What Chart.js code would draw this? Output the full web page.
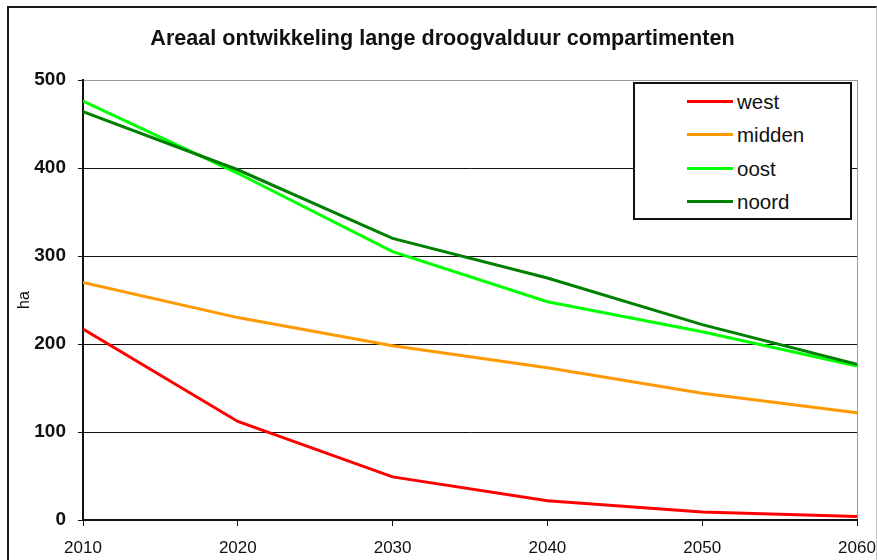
<!DOCTYPE html>
<html>
<head>
<meta charset="utf-8">
<script src="https://cdn.jsdelivr.net/npm/chart.js@4"></script>
<style>
  body { margin: 0; background: #fff; }
  #wrap { position: relative; width: 877px; height: 560px; overflow: hidden; font-family: "Liberation Sans", Arial, sans-serif; }
  #frame { position: absolute; left: 7px; top: 6px; right: 0; bottom: -10px; border-top: 2px solid #1a1a1a; border-left: 2px solid #1a1a1a; border-right: 1px solid #c8c8c8; }
  #chart { position: absolute; left: 0; top: 0; }
  #title { position: absolute; left: 0; top: 25px; width: 885px; text-align: center; font-size: 21.6px; line-height: 26px; font-weight: bold; color: #111; white-space: nowrap; }
  #legend { position: absolute; left: 633px; top: 82px; width: 219px; height: 138px; box-sizing: border-box; border: 2px solid #111; background: #fff; }
  .item { position: absolute; left: 0; height: 24px; line-height: 24px; font-size: 20.5px; color: #111; }
  .item .swatch { position: absolute; left: 52px; top: 10px; width: 46px; height: 3px; }
  .item .label { position: absolute; left: 102px; white-space: nowrap; }
</style>
</head>
<body>
<div id="wrap">
  <div id="frame"></div>
  <canvas id="chart" width="877" height="560"></canvas>
  <div id="title">Areaal ontwikkeling lange droogvalduur compartimenten</div>
  <div id="legend"></div>
</div>
<script>
// values
const years = [2010, 2020, 2030, 2040, 2050, 2060];
const west = [217, 112, 49, 22, 9, 4];
const midden = [270, 230, 198, 173, 144, 122];
const oost = [476, 394, 305, 248, 214, 175];
const noord = [464, 398, 320, 275, 222, 177];
const seriesNames = ['west', 'midden', 'oost', 'noord'];
const seriesColors = ['#ff0000', '#ff9900', '#00ff00', '#008000'];
const yTicks = [0, 100, 200, 300, 400, 500];

const fontFamily = '"Liberation Sans", Arial, sans-serif';

function toPoints(values) {
    return values.map((v, i) => ({ x: years[i], y: v }));
}

const allSeries = [west, midden, oost, noord];
const datasets = allSeries.map((values, i) => ({
    label: seriesNames[i],
    data: toPoints(values),
    borderColor: seriesColors[i],
    backgroundColor: seriesColors[i],
    borderWidth: 3,
    pointRadius: 0,
    tension: 0,
    // excel draws later series on top
    order: allSeries.length - i
}));

const chart = new Chart(document.getElementById('chart'), {
    type: 'line',
    data: { datasets: datasets },
    options: {
        responsive: false,
        animation: false,
        // title sits in the html above the plot, so leave room for it
        layout: { padding: { left: 0, right: 20, top: 80, bottom: 0 } },
        plugins: {
            legend: { display: false },
            tooltip: { enabled: false },
            title: { display: false }
        },
        scales: {
            x: {
                type: 'linear',
                min: years[0],
                max: years[years.length - 1],
                afterFit: function(scale) {
                    scale.height = 40;
                    // let the last label hang over the plot edge like the original
                    scale.paddingLeft = 0;
                    scale.paddingRight = 0;
                },
                afterBuildTicks: function(scale) {
                    scale.ticks = years.map(y => ({ value: y }));
                },
                ticks: {
                    color: '#111',
                    font: { family: fontFamily, size: 17 },
                    padding: 12,
                    maxRotation: 0,
                    autoSkip: false,
                    callback: function(value) { return String(value); }
                },
                grid: {
                    color: function(ctx) {
                        return ctx.tick && ctx.tick.value === years[years.length - 1] ? '#999' : 'rgba(0,0,0,0)';
                    },
                    tickColor: '#111',
                    tickLength: 6,
                    lineWidth: 1
                },
                border: { display: true, color: '#111', width: 2 }
            },
            y: {
                min: yTicks[0],
                max: yTicks[yTicks.length - 1],
                afterFit: function(scale) { scale.width = 83; },
                afterBuildTicks: function(scale) {
                    scale.ticks = yTicks.map(v => ({ value: v }));
                },
                ticks: {
                    color: '#111',
                    font: { family: fontFamily, size: 19, weight: 'bold' },
                    padding: 12
                },
                title: {
                    display: true,
                    text: 'ha',
                    color: '#111',
                    font: { family: fontFamily, size: 16 },
                    padding: { top: 15, bottom: 0 }
                },
                grid: {
                    color: function(ctx) {
                        return ctx.tick && ctx.tick.value === yTicks[yTicks.length - 1] ? '#999' : '#111';
                    },
                    tickColor: '#111',
                    tickLength: 5,
                    lineWidth: 1
                },
                border: { display: true, color: '#111', width: 2 }
            }
        }
    }
});

// legend box inside the plot, built from the datasets
const legend = document.getElementById('legend');
chart.data.datasets.forEach(function(ds, i) {
    const item = document.createElement('div');
    item.className = 'item';
    item.style.top = (6 + i * 33.3) + 'px';
    item.innerHTML = '<span class="swatch" style="background:' + ds.borderColor + '"></span>' +
        '<span class="label">' + ds.label + '</span>';
    legend.appendChild(item);
});
</script>
</body>
</html>
